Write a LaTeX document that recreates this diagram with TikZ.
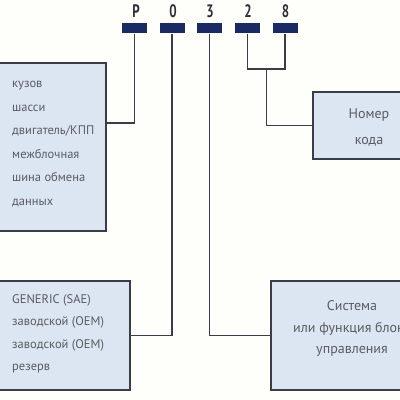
\documentclass[tikz,border=0pt]{standalone}
\usepackage{fontspec}
\setmainfont{PT Sans}
\definecolor{navy}{HTML}{1C2A63}
\definecolor{boxfill}{HTML}{DCE5F2}
\definecolor{boxline}{HTML}{3A3D48}
\definecolor{txt}{HTML}{5A5C62}
\definecolor{lab}{HTML}{2E2F38}
\definecolor{bg}{HTML}{FEFEFB}
\newcommand{\narrowdigit}[1]{\scalebox{0.72}[1]{#1}}
\tikzset{
  bar/.style={fill=navy, draw=none, minimum width=25pt, minimum height=10pt, inner sep=0pt},
  digit/.style={font=\bfseries\fontsize{18}{18}\selectfont, text=lab, inner sep=0pt},
  infobox/.style={draw=boxline, line width=1.4pt, fill=boxfill, inner sep=0pt},
  conn/.style={draw=boxline, line width=1.3pt},
  boxtext/.style={text=txt, font=\fontsize{12.5}{23.6}\selectfont, inner sep=0pt},
  bigtext/.style={text=txt, font=\fontsize{14}{21.5}\selectfont, inner sep=0pt}
}
\begin{document}
\begin{tikzpicture}[x=1pt,y=-1pt]
\useasboundingbox (0,0) rectangle (400,400);
\clip (0,0) rectangle (400,400);
\fill[bg] (0,0) rectangle (400,400);
% boxes
\node[infobox, minimum width=111pt, minimum height=168pt] (b1) at (50.5,147) {};
\node[infobox, minimum width=135pt, minimum height=109pt] (b2) at (62.5,335.5) {};
\node[infobox, minimum width=162pt, minimum height=109pt] (b3) at (352,335.5) {};
\node[infobox, minimum width=112pt, minimum height=67pt] (b4) at (369,125.5) {};
% texts
\node[boxtext, align=left, anchor=west] (t1) at (12,144) {кузов\\шасси\\двигатель/КПП\\межблочная\\шина обмена\\данных};
\node[boxtext, align=left, anchor=west, font=\fontsize{12.5}{22.5}\selectfont] (t2) at (12,334) {GENERIC (SAE)\\заводской (OEM)\\заводской (OEM)\\резерв};
\node[bigtext, align=center] (t3) at (352,328.5) {Система\\или функция блока\\управления};
\node[bigtext, align=center, font=\fontsize{14}{26}\selectfont] (t4) at (369,127) {Номер\\кода};
% bars and digits
\node[bar] (bP) at (134.5,28.3) {};
\node[bar] (b0) at (172,28.3) {};
\node[bar] (b3b) at (209.5,28.3) {};
\node[bar] (b2b) at (247.5,28.3) {};
\node[bar] (b8) at (285,28.3) {};
\node[digit] (dP) at (136,11.5) {\narrowdigit{P}};
\node[digit] (d0) at (173,11.5) {\narrowdigit{0}};
\node[digit] (d3) at (210,11.5) {\narrowdigit{3}};
\node[digit] (d2) at (248,11.5) {\narrowdigit{2}};
\node[digit] (d8) at (285.5,11.5) {\narrowdigit{8}};
% connectors
\coordinate (cP) at (134.5,123);
\draw[conn] (bP.south) -- (cP) -- (cP -| b1.east);
\draw[conn] (b0.south) |- (b2.east);
\draw[conn] (b3b.south) |- (b3.west);
\coordinate (j) at (266.25,69);
\draw[conn] (b2b.south) -- (b2b.south |- j) -- (b8.south |- j) -- (b8.south);
\draw[conn] (j) |- (b4.west);
\end{tikzpicture}
\end{document}
